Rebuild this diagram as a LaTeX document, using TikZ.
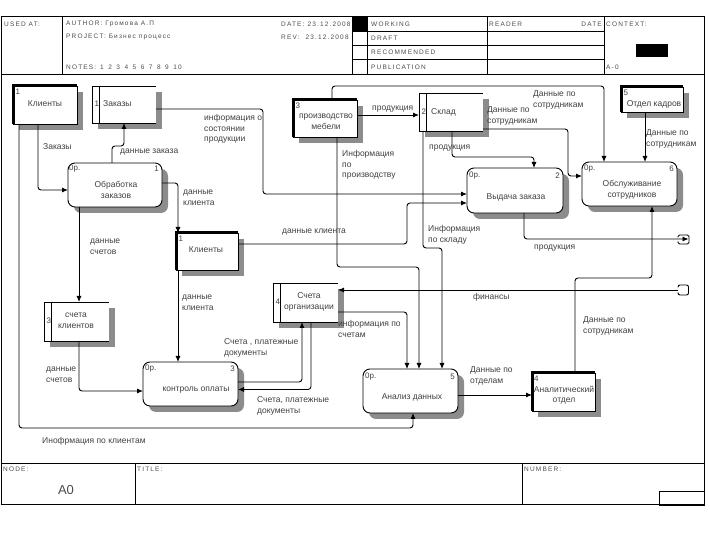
\documentclass[tikz,border=0pt]{standalone}
\usepackage{fontspec}
\setmainfont{Liberation Sans}
\newfontfamily\hdrfont[LetterSpace=18]{Liberation Sans}
\usetikzlibrary{arrows.meta,shadows,calc}
\begin{document}
\begin{tikzpicture}[x=1pt,y=-1pt,
  lbl/.style={font=\fontsize{8.5}{10.5}\selectfont, text=black!75, inner sep=0pt, align=left, anchor=west},
  ctext/.style={font=\fontsize{8.5}{10.5}\selectfont, text=black!75, inner sep=0pt, align=center},
  num/.style={font=\fontsize{8}{9}\selectfont, text=black!75, inner sep=0pt, anchor=west},
  hdr/.style={font=\hdrfont\fontsize{6.5}{8}\selectfont, text=black!70, inner sep=0pt, anchor=west},
  shd/.style={drop shadow={shadow xshift=6pt, shadow yshift=-6pt, fill=black!45, opacity=1}},
  proc/.style={draw, line width=0.9pt, rounded corners=7pt, fill=white, shd, inner sep=0pt, outer sep=0pt},
  ent/.style={draw, line width=0.9pt, fill=white, shd, inner sep=0pt, outer sep=0pt},
  store/.style={fill=white, shd, inner sep=0pt, outer sep=0pt},
  thin/.style={line width=0.9pt},
  thick3/.style={line width=3pt, line join=miter},
  ln/.style={line width=0.9pt, rounded corners=3pt},
  arr/.style={ln, -{Latex[length=6pt,width=5pt]}},
]
\useasboundingbox (0,0) rectangle (710,534);
\fill[white] (0,0) rectangle (710,534);

% ---------- frame, header, footer ----------
\draw[line width=1pt] (1,17) rectangle (704,505);
\draw[thin] (1,74) -- (704,74);
\draw[thin] (62,17) -- (62,74);
\draw[thin] (352,17) -- (352,74);
\draw[thin] (367,17) -- (367,74);
\draw[thin] (487,17) -- (487,74);
\draw[thin] (604,17) -- (604,74);
\draw[thin] (352,31.25) -- (604,31.25);
\draw[thin] (352,45.5) -- (604,45.5);
\draw[thin] (352,59.75) -- (604,59.75);
\fill[black] (352,17) rectangle (367,31.25);
\fill[black] (636,44) rectangle (668,57);
\node[hdr] (hused) at (4,24) {USED AT:};
\begin{scope}
\clip (62,17) rectangle (351.5,74);
\node[hdr] (hauth) at (66,24) {AUTHOR: Громова А.П};
\node[hdr] (hproj) at (66,37) {PROJECT: Бизнес процесс};
\node[hdr] (hnotes) at (66,67) {NOTES:\hspace{4pt}1\hspace{4.5pt}2\hspace{4.5pt}3\hspace{4.5pt}4\hspace{4.5pt}5\hspace{4.5pt}6\hspace{4.5pt}7\hspace{4.5pt}8\hspace{4.5pt}9\hspace{4.5pt}10};
\node[hdr] (hdate) at (281,24) {DATE: 23.12.2008};
\node[hdr] (hrev) at (281,37) {REV: \ 23.12.2008};
\end{scope}
\node[hdr] (hwork) at (371,24) {WORKING};
\node[hdr] (hdraft) at (371,38.5) {DRAFT};
\node[hdr] (hrec) at (371,52.5) {RECOMMENDED};
\node[hdr] (hpub) at (371,67) {PUBLICATION};
\node[hdr] (hread) at (489,24) {READER};
\node[hdr, anchor=east] (hdate2) at (602,24) {DATE};
\node[hdr] (hctx) at (606,24) {CONTEXT:};
\node[hdr] (ha0) at (606,67) {A-0};

\draw[thin] (1,463) -- (704,463);
\draw[thin] (135,463) -- (135,505);
\draw[thin] (522,463) -- (522,505);
\draw[thin] (659,491) rectangle (704,505);
\node[hdr] (fnode) at (3,469) {NODE:};
\node[hdr] (ftitle) at (137,469) {TITLE:};
\node[hdr] (fnum) at (524,469) {NUMBER:};
\node[font=\fontsize{13}{14}\selectfont, text=black!70, inner sep=0pt] (fa0) at (66,490) {A0};

% ---------- entities ----------
\node[ent, minimum width=64pt, minimum height=38pt] (e1) at (45,105) {};
\node[ent, minimum width=62pt, minimum height=37pt] (e1b) at (207,251.5) {};
\node[ent, minimum width=64pt, minimum height=37pt] (e3) at (325,118.5) {};
\node[ent, minimum width=63pt, minimum height=38pt] (e4) at (563.5,392) {};
\node[ent, minimum width=62pt, minimum height=25pt] (e5) at (652,99.5) {};
\foreach \n in {e1,e1b,e3,e4,e5}{
  \draw[thick3] (\n.south west) -- (\n.north west) -- (\n.north east);
}
\node[num] (e1n) at (15.5,92) {1};
\node[ctext] (e1t) at (45,104) {Клиенты};
\node[num] (e1bn) at (178.5,239) {1};
\node[ctext] (e1bt) at (206,250) {Клиенты};
\node[num] (e3n) at (295.5,106) {3};
\node[ctext] (e3t) at (326,122) {производство\\мебели};
\node[num] (e4n) at (534,379) {4};
\node[ctext] (e4t) at (564,395) {Аналитический\\отдел};
\node[num] (e5n) at (623.5,93) {5};
\node[ctext] (e5t) at (654,104) {Отдел кадров};

% ---------- data stores ----------
\node[store, minimum width=64pt, minimum height=37pt] (d1) at (124,104.5) {};
\node[store, minimum width=64pt, minimum height=38pt] (d2) at (451,112) {};
\node[store, minimum width=65pt, minimum height=39pt] (d3) at (76.5,321.5) {};
\node[store, minimum width=65pt, minimum height=39pt] (d4) at (305.5,302.5) {};
\foreach \n in {d1,d2,d3,d4}{
  \draw[thin] (\n.north east) -- (\n.north west) -- (\n.south west) -- (\n.south east);
  \draw[thin] ($(\n.north west)+(7,0)$) -- ($(\n.south west)+(7,0)$);
}
\node[num] (d1n) at (94.5,104) {1};
\node[lbl] (d1t) at (103,104) {Заказы};
\node[num] (d2n) at (421.5,112) {2};
\node[lbl] (d2t) at (431,112) {Склад};
\node[num] (d3n) at (46.5,321) {3};
\node[ctext] (d3t) at (76,321) {счета\\клиентов};
\node[num] (d4n) at (275.5,302) {4};
\node[ctext] (d4t) at (309,302) {Счета\\организации};

% ---------- processes ----------
\node[proc, minimum width=94pt, minimum height=44pt] (p1) at (115,185) {};
\node[proc, minimum width=96pt, minimum height=45pt] (p2) at (515,190.5) {};
\node[proc, minimum width=95pt, minimum height=44pt] (p3) at (190.5,384) {};
\node[proc, minimum width=95pt, minimum height=44pt] (p5) at (410.5,391) {};
\node[proc, minimum width=95pt, minimum height=44pt] (p6) at (629.5,184) {};
\node[num] (p1c) at (69,169) {0р.};
\node[num, anchor=east] (p1n) at (159,169) {1};
\node[ctext] (p1t) at (116,190) {Обработка\\заказов};
\node[num] (p2c) at (469,176) {0р.};
\node[num, anchor=east] (p2n) at (560,176) {2};
\node[ctext] (p2t) at (516,197) {Выдача заказа};
\node[num] (p3c) at (145,369) {0р.};
\node[num, anchor=east] (p3n) at (235,369) {3};
\node[ctext] (p3t) at (196,390) {контроль оплаты};
\node[num] (p5c) at (365,377) {0р.};
\node[num, anchor=east] (p5n) at (455,377) {5};
\node[ctext] (p5t) at (412,397) {Анализ данных};
\node[num] (p6c) at (584,169) {0р.};
\node[num, anchor=east] (p6n) at (674,169) {6};
\node[ctext] (p6t) at (632,190) {Обслуживание\\сотрудников};

% ---------- tunnels ----------
\coordinate (t1) at (688.5,239);
\draw[thin, rounded corners=1.5pt] (678,237.5) -- (678,235) -- (689,235) -- (689,244) -- (678,244) -- (678,241.5);
\coordinate (t2) at (678,290);
\draw[thin, rounded corners=2pt] (678,287.5) -- (678,285) -- (688.5,285) -- (688.5,295) -- (678,295) -- (678,292.5);

% ---------- connectors ----------
\draw[arr] (e1.south -| 38,0) -- (38,190) -- (p1.west |- 0,190);
\draw[arr] (p1.north -| 112,0) -- (112,146) -- (124,146) -- (d1.south -| 124,0);
\draw[arr] (p1.east |- 0,183) -- (178,183) -- (e1b.north -| 178,0);
\draw[arr] (p1.south -| 79,0) -- (d3.north -| 79,0);
\draw[arr] (d3.south -| 79,0) -- (79,391) -- (p3.west |- 0,391);
\draw[arr] (e1b.south -| 178,0) -- (p3.north -| 178,0);
\draw[arr] (p3.east |- 0,382) -- (302,382) -- (d4.south -| 302,0);
\draw[arr] (d4.south -| 311,0) -- (311,389.5) -- (p3.east |- 0,389.5);
\draw[arr] (t2) -- (d4.east |- t2);
\draw[arr] (d4.east |- 0,312) -- (407,312) -- (p5.north -| 407,0);
\draw[arr] (e3.south -| 337,0) -- (337,267) -- (419,267) -- (p5.north -| 419,0);
\draw[arr] (d2.south -| 423,0) -- (423,248) -- (442,248) -- (p5.north -| 442,0);
\draw[arr] (p5.east |- 0,395) -- (e4.west |- 0,395);
\draw[arr] (e4.north -| 575,0) -- (575,278) -- (652,278) -- (p6.south -| 652,0);
\draw[arr] (e5.south -| 645,0) -- (p6.north -| 645,0);
\draw[arr] (e3.north -| 332,0) -- (332,86) -- (604,86) -- (p6.north -| 604,0);
\draw[arr] (d2.east |- 0,129) -- (568,129) -- (568,176) -- (p6.west |- 0,176);
\draw[arr] (d2.south -| 452,0) -- (452,157) -- (534,157) -- (p2.north -| 534,0);
\draw[arr] (e3.east |- 0,115) -- (d2.west |- 0,115);
\draw[arr] (d1.east |- 0,109) -- (263,109) -- (263,194) -- (p2.west |- 0,194);
\draw[arr] (e1b.east |- 0,244) -- (407,244) -- (407,203) -- (p2.west |- 0,203);
\draw[arr] (p2.south -| 524,0) -- (524,239) -- (t1);
\draw[arr] (e1.south -| 19,0) -- (19,428) -- (413,428) -- (p5.south -| 413,0);

% ---------- labels ----------
\node[lbl] (l1) at (43,147) {Заказы};
\node[lbl] (l2) at (120,152) {данные заказа};
\node[lbl] (l3) at (183,198) {данные\\клиента};
\node[lbl] (l4) at (90,247) {данные\\счетов};
\node[lbl] (l5) at (46,375) {данные\\счетов};
\node[lbl] (l6) at (182,303) {данные\\клиента};
\node[lbl] (l7) at (224,348) {Счета , платежные\\документы};
\node[lbl] (l8) at (257,406) {Счета, платежные\\документы};
\node[lbl] (l9) at (473,297) {финансы};
\node[lbl] (l10) at (338,329) {информация по\\счетам};
\node[lbl] (l11) at (342,165) {Информация\\по\\производству};
\node[lbl] (l12) at (428,235) {Информация\\по складу};
\node[lbl] (l13) at (470,376) {Данные по\\отделам};
\node[lbl] (l14) at (583,326) {Данные по\\сотрудникам};
\node[lbl] (l15) at (646,139) {Данные по\\сотрудникам};
\node[lbl] (l16) at (533,100) {Данные по\\сотрудникам};
\node[lbl] (l17) at (487,116) {Данные по\\сотрудникам};
\node[lbl] (l18) at (429,148) {продукция};
\node[lbl] (l19) at (372,109) {продукция};
\node[lbl] (l20) at (204,129) {информация о\\состоянии\\продукции};
\node[lbl] (l21) at (282,232) {данные клиента};
\node[lbl] (l22) at (534,248) {продукция};
\node[lbl] (l23) at (42,441) {Инофрмация по клиентам};
\end{tikzpicture}
\end{document}
